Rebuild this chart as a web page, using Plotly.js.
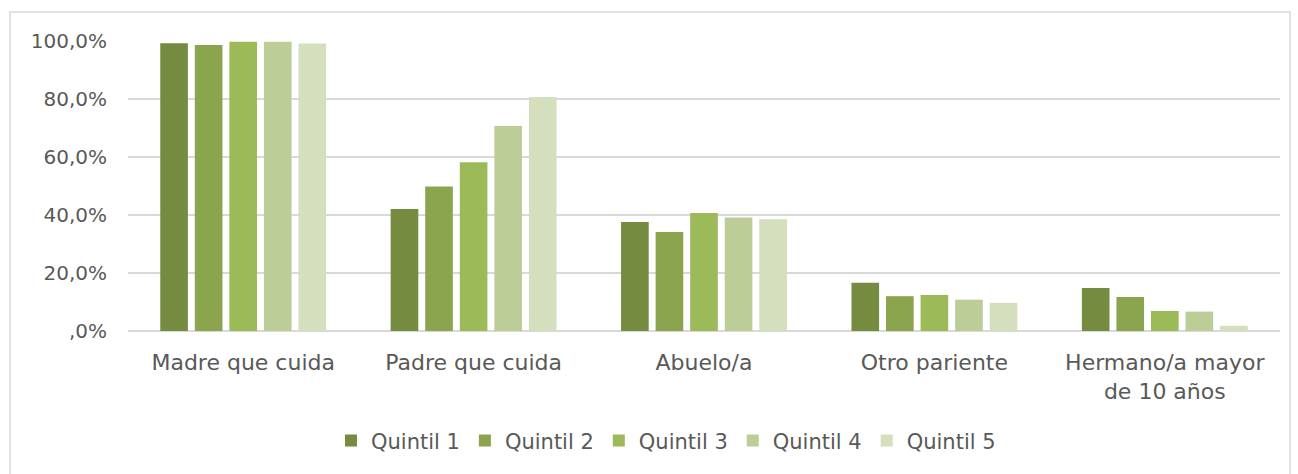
<!DOCTYPE html>
<html><head><meta charset="utf-8">
<script src="https://cdn.plot.ly/plotly-3.0.1.min.js"></script>
<style>html,body{margin:0;padding:0;background:#fff}#chart{width:1298px;height:474px}</style>
</head><body><div id="chart"></div>
<script>
const categories = ['Madre que cuida', 'Padre que cuida', 'Abuelo/a', 'Otro pariente', 'Hermano/a mayor<br>de 10 años'];
const seriesNames = ['Quintil 1', 'Quintil 2', 'Quintil 3', 'Quintil 4', 'Quintil 5'];
const quintil1 = [99.2, 42.1, 37.6, 16.6, 14.8];
const quintil2 = [98.6, 49.8, 34.1, 12.0, 11.7];
const quintil3 = [99.7, 58.2, 40.7, 12.4, 6.9];
const quintil4 = [99.7, 70.7, 39.1, 10.8, 6.7];
const quintil5 = [99.1, 80.7, 38.5, 9.7, 1.8];
const tickVals = [0, 20, 40, 60, 80, 100];
const tickText = [',0%', '20,0%', '40,0%', '60,0%', '80,0%', '100,0%'];
const colors = ['#758c40', '#8aa54e', '#9dba59', '#bccd97', '#d3dfbd'];
const allSeries = [quintil1, quintil2, quintil3, quintil4, quintil5];

const traces = allSeries.map((vals, i) => ({
  type: 'bar', name: seriesNames[i], x: categories, y: vals,
  marker: {color: colors[i]}, hoverinfo: 'none'
}));
const font = 'DejaVu Sans, sans-serif';
const layout = {
  width: 1298, height: 474,
  margin: {l: 128, r: 18, t: 41, b: 143},
  paper_bgcolor: '#fff', plot_bgcolor: '#fff',
  barmode: 'group', bargap: 0.25, bargroupgap: 0.2,
  font: {family: font, color: '#595959'},
  xaxis: {tickfont: {size: 22, color: '#595959'}, showgrid: false, zeroline: false,
          showline: false, ticks: '', fixedrange: true, ticklabelstandoff: 16},
  yaxis: {range: [0, 100], tickvals: tickVals, ticktext: tickText,
          tickfont: {size: 20, color: '#595959'}, gridcolor: '#d9d9d9', gridwidth: 1.5,
          zeroline: true, zerolinecolor: '#d9d9d9', zerolinewidth: 1.5, showline: false,
          ticks: '', ticklabelstandoff: 20},
  showlegend: true,
  legend: {orientation: 'h', x: 0.467, xanchor: 'center', y: -0.379, yanchor: 'middle',
           font: {size: 21, color: '#595959'}, traceorder: 'normal', itemwidth: 30}
};
layout.shapes = [{type: 'rect', xref: 'paper', yref: 'paper',
  x0: (10-128)/1152, x1: (1290-128)/1152, y0: (331-480)/290, y1: (331-12)/290,
  line: {color: '#d9d9d9', width: 1.5}, fillcolor: 'rgba(0,0,0,0)', layer: 'below'}];
Plotly.newPlot('chart', traces, layout, {displayModeBar: false, staticPlot: true});
</script></body></html>
